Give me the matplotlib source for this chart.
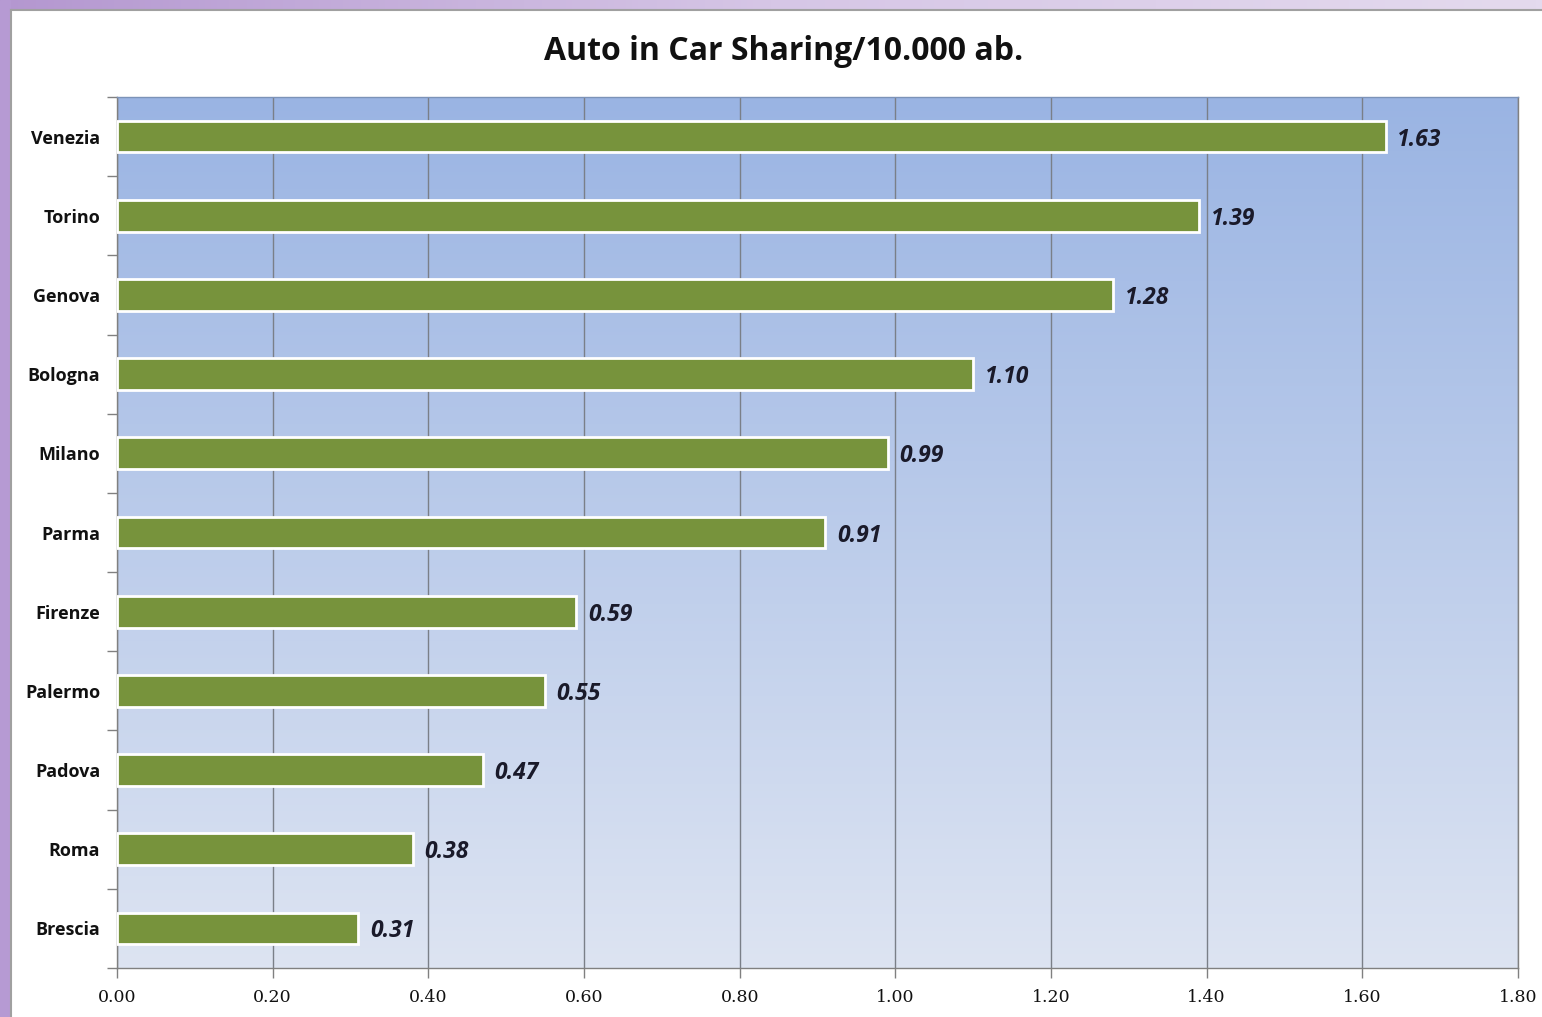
import numpy as np
import matplotlib
matplotlib.use("Agg")
import matplotlib.pyplot as plt
from matplotlib.patches import Rectangle
from matplotlib.colors import LinearSegmentedColormap
from matplotlib.ticker import FixedLocator
import matplotlib.transforms as mtransforms

cities = ["Venezia", "Torino", "Genova", "Bologna", "Milano", "Parma",
          "Firenze", "Palermo", "Padova", "Roma", "Brescia"]
values = [1.63, 1.39, 1.28, 1.10, 0.99, 0.91, 0.59, 0.55, 0.47, 0.38, 0.31]
x_ticks = [0.0, 0.2, 0.4, 0.6, 0.8, 1.0, 1.2, 1.4, 1.6, 1.8]
title = "Auto in Car Sharing/10.000 ab."

W, H = 1542, 1017
fig = plt.figure(figsize=(W / 100, H / 100), dpi=100)
fig.patch.set_facecolor("white")

# decorative purple frame
bg = fig.add_axes([0, 0, 1, 1], zorder=-5)
bg.set_xlim(0, W)
bg.set_ylim(H, 0)
bg.axis("off")
top_grad = np.linspace(0, 1, 256).reshape(1, -1)
cm_top = LinearSegmentedColormap.from_list("pt", ["#B497D0", "#D6C6E6", "#E4DAEE"])
bg.imshow(top_grad, extent=[0, W, 9, 0], cmap=cm_top, aspect="auto", zorder=0)
bg.add_patch(Rectangle((0, 0), 10, H, color="#B69AD3", zorder=1))
bg.plot([10.5, 10.5], [9.5, H], color="#A0A0A0", lw=1.5, zorder=2)
bg.plot([10.5, W], [9.5, 9.5], color="#A0A0A0", lw=1.5, zorder=2)

# main axes
left, right, top, bottom = 117, 1518, 97, 968
ax = fig.add_axes([left / W, 1 - bottom / H, (right - left) / W, (bottom - top) / H])

grad = np.linspace(0, 1, 256).reshape(-1, 1)
cm_bg = LinearSegmentedColormap.from_list("bgc", ["#9AB4E3", "#DDE4F2"])
ax.imshow(grad, extent=[0, 1, 0, 1], transform=ax.transAxes, cmap=cm_bg,
          aspect="auto", zorder=0)

y = np.arange(len(cities))
ax.barh(y, values, height=0.4, color="#77933C", edgecolor="white",
        linewidth=2, zorder=3)
lbl_tr = ax.transData + mtransforms.ScaledTranslation(0, -3 / 100, fig.dpi_scale_trans)
for yi, v in zip(y, values):
    ax.text(v + 0.015, yi, f"{v:.2f}", va="center", ha="left",
            fontsize=16.5, fontstyle="italic", fontweight="bold",
            family="Open Sans", color="#1A1A2A", zorder=4, transform=lbl_tr)

ax.set_xlim(0, 1.8)
ax.set_ylim(len(cities) - 0.5, -0.5)
ax.xaxis.set_major_locator(FixedLocator(x_ticks))
ax.set_xticklabels([f"{t:.2f}" for t in x_ticks], family="DejaVu Serif",
                   fontsize=12.5, color="#111111")
ax.set_yticks(y)
ax.set_yticklabels(cities, family="Open Sans", fontweight="bold",
                   fontsize=13, color="#111111")
ax.yaxis.set_minor_locator(FixedLocator(np.arange(-0.5, len(cities), 1.0)))
ax.tick_params(axis="y", which="major", length=0, pad=12)
ax.tick_params(axis="y", which="minor", length=7, color="#808080", width=1)
ax.tick_params(axis="x", which="major", length=7, color="#808080", width=1, pad=8)
ax.grid(axis="x", color="#7A7F88", linewidth=1, zorder=1)
ax.set_axisbelow(True)
for s in ["left", "bottom", "right"]:
    ax.spines[s].set_color("#808080")
    ax.spines[s].set_linewidth(1)
ax.spines["top"].set_color("#7C93B8")
ax.spines["top"].set_linewidth(1)

fig.text(0.5085, 1 - 52 / H, title, ha="center", va="center",
         fontsize=23, fontweight="bold", family="Open Sans", color="#111111")

fig.savefig("out.png", dpi=100)
